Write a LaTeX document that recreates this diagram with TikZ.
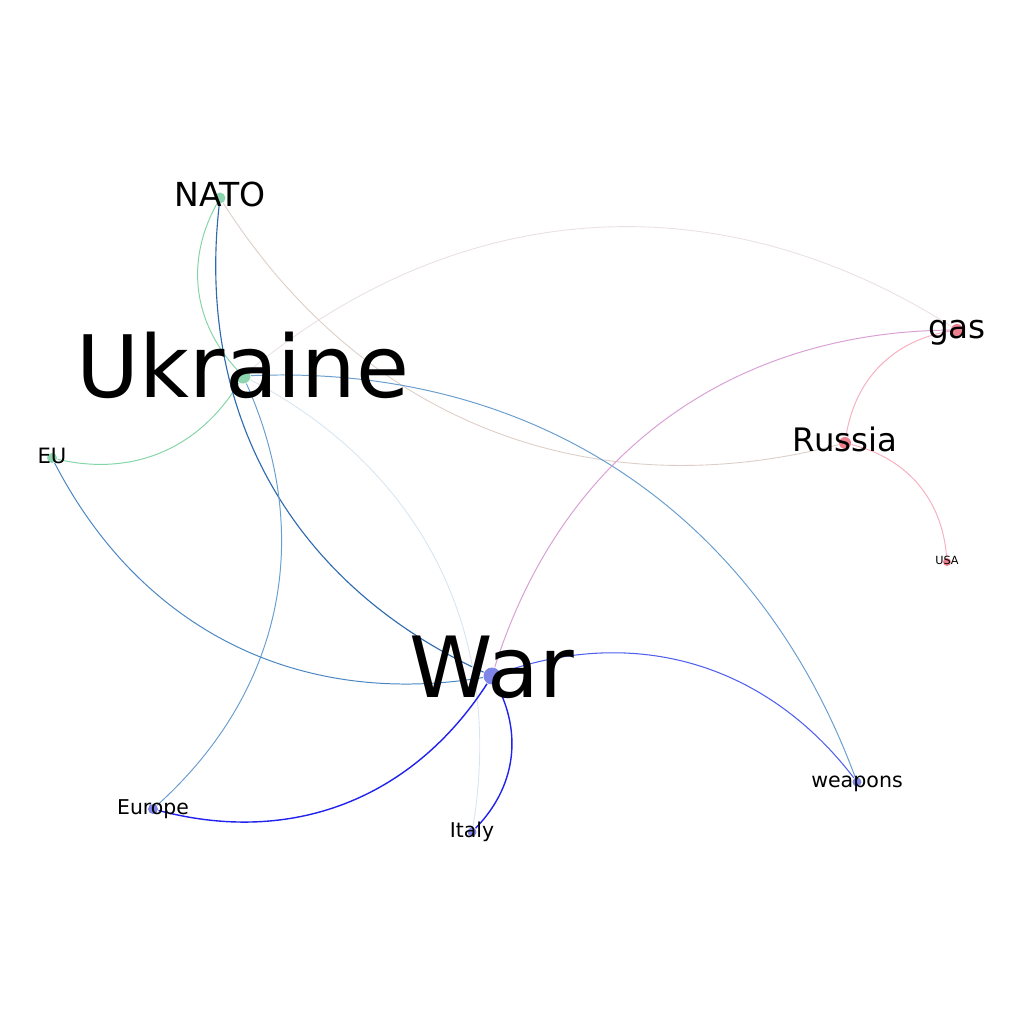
\documentclass[tikz,border=0pt]{standalone}
\usepackage{fontspec}
\setmainfont{DejaVu Sans}
\usetikzlibrary{backgrounds}
\definecolor{nodegreen}{HTML}{8CD5AE}
\definecolor{nodeblue}{HTML}{7F86E8}
\definecolor{nodepink}{HTML}{EE7F8E}
\definecolor{edgegreen}{HTML}{84D4A8}
\definecolor{edgesteel}{HTML}{4A86C2}
\definecolor{edgedark}{HTML}{2E6AAE}
\definecolor{edgesky}{HTML}{6A9ECE}
\definecolor{edgeblue}{HTML}{2222EE}
\definecolor{edgeviolet}{HTML}{4F5FEE}
\definecolor{edgerose}{HTML}{F6B0C0}
\definecolor{edgeplum}{HTML}{D8A0D4}
\definecolor{edgesand}{HTML}{DCCEC6}
\definecolor{edgemist}{HTML}{EAE0E0}
\definecolor{edgefrost}{HTML}{D8E4EE}

\begin{document}
\begin{tikzpicture}[x=0.01cm, y=-0.01cm,
    dot/.style={circle, inner sep=0pt},
    lbl/.style={inner sep=0pt, anchor=base}]
    \useasboundingbox (0,0) rectangle (1024,1024);
    % Nodes
    \foreach \name/\x/\y/\d/\col in {nato/220/198/0.11/nodegreen,
        ukraine/243/376/0.15/nodegreen, eu/52/458/0.10/nodegreen,
        war/492/676/0.17/nodeblue, weapons/857/782/0.09/nodeblue,
        europe/153/809/0.10/nodeblue, italy/472/832/0.09/nodeblue,
        gas/957/330/0.12/nodepink, russia/845/443/0.12/nodepink,
        usa/947/562/0.08/nodepink} {
        \node[dot, fill=\col, minimum size=\d cm] (\name) at (\x,\y) {};
    }
    % Links
    \begin{pgfonlayer}{background}
    \foreach \a/\b/\col/\w in {nato/ukraine/edgegreen/0.28,
        eu/ukraine/edgegreen/0.28, nato/war/edgedark/0.32,
        nato/russia/edgesand/0.25, gas/ukraine/edgemist/0.25,
        weapons/ukraine/edgesky/0.28, europe/ukraine/edgesky/0.28,
        italy/ukraine/edgefrost/0.25, eu/war/edgesteel/0.28,
        gas/war/edgeplum/0.28, weapons/war/edgeviolet/0.3,
        europe/war/edgeblue/0.4, italy/war/edgeblue/0.4,
        gas/russia/edgerose/0.28, usa/russia/edgerose/0.28} {
        \draw[draw=\col, line width=\w pt] (\a) to[bend right=36] (\b);
    }
    \end{pgfonlayer}
    % Labels
    \foreach \name/\txt/\fs in {nato/NATO/9.4pt, ukraine/Ukraine/24.5pt,
        eu/EU/6pt, war/War/24pt, weapons/weapons/5.85pt,
        europe/Europe/5.8pt, italy/Italy/5.8pt, gas/gas/9.3pt,
        russia/Russia/9.2pt, usa/USA/3.2pt} {
        \node[lbl, font=\fontsize{\fs}{\fs}\selectfont, yshift=-0.25*\fs] (\name-label) at (\name) {\txt};
    }
\end{tikzpicture}
\end{document}
